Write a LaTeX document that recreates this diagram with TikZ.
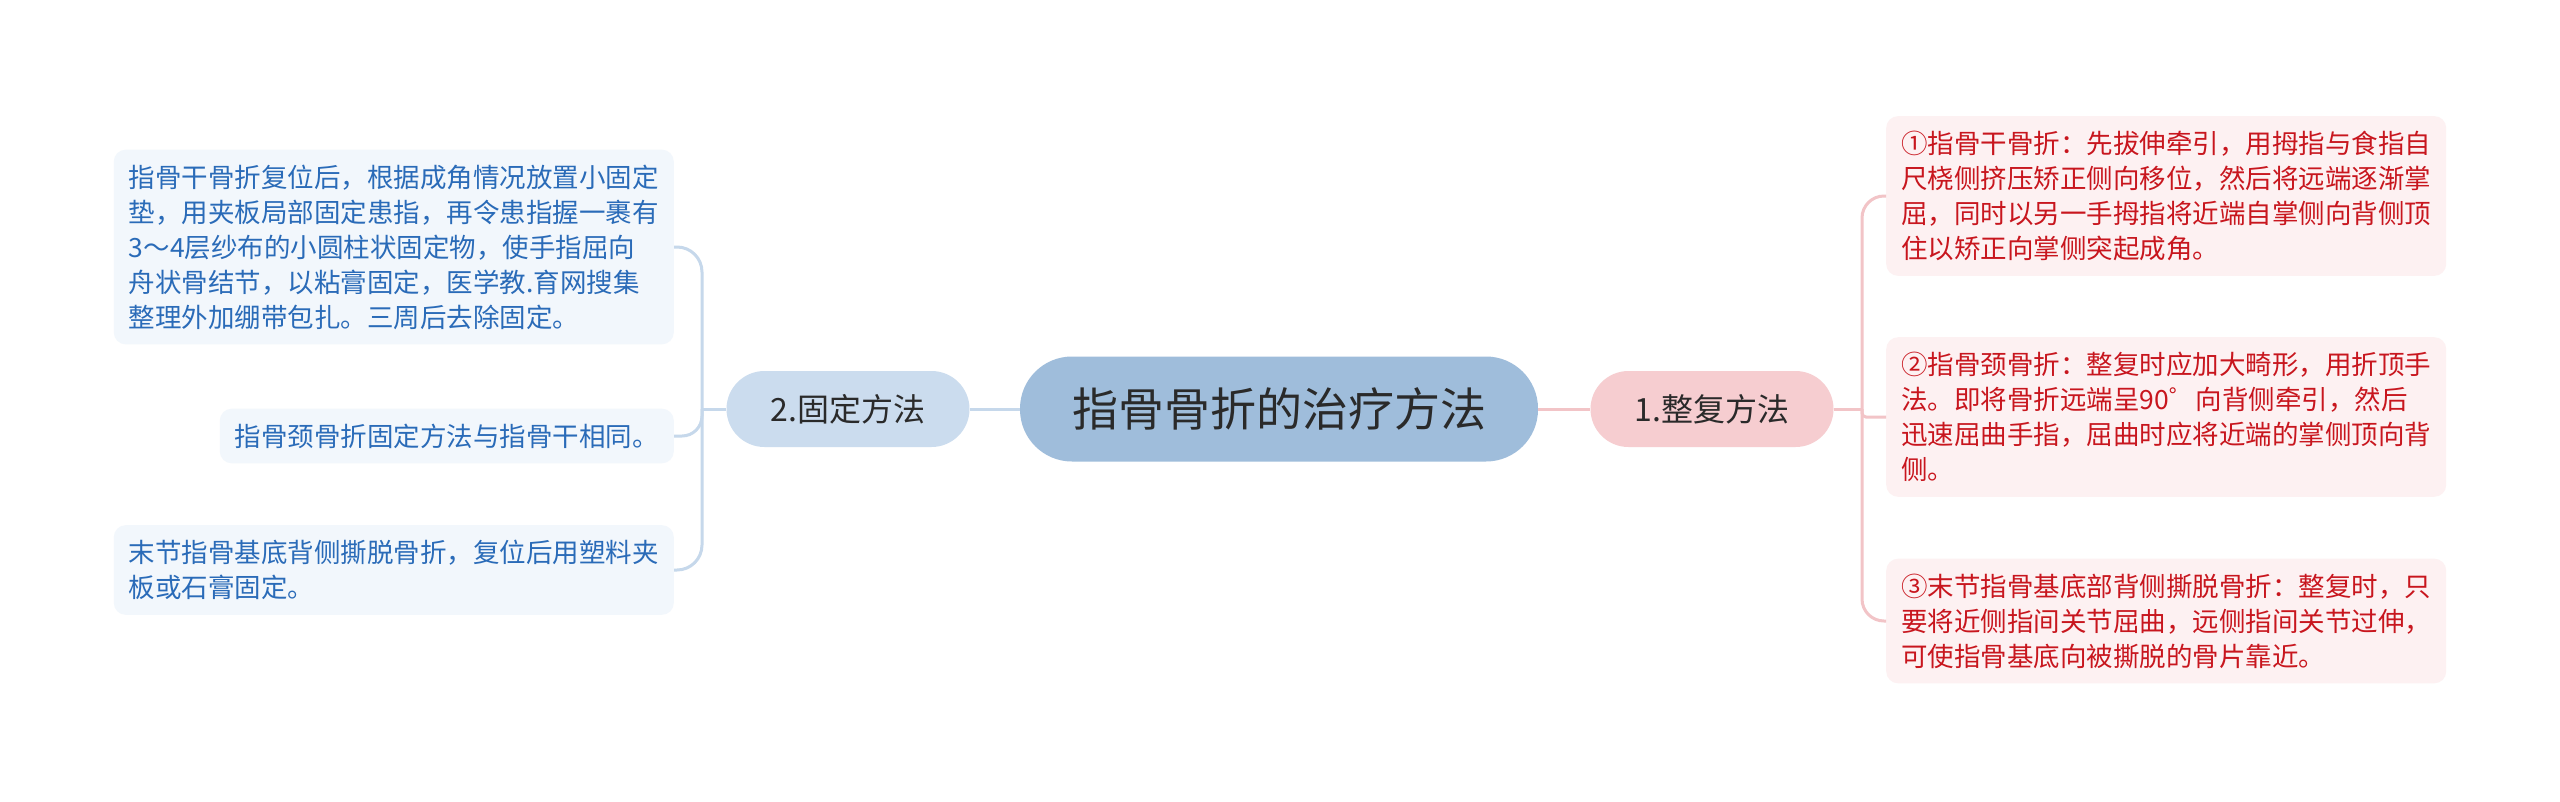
\documentclass[tikz,border=0pt]{standalone}
\usepackage{fontspec}
\newfontfamily\cjk{Noto Sans CJK SC}
\definecolor{cfill}{HTML}{9FBDDB}
\definecolor{bfill}{HTML}{CBDCEE}
\definecolor{pfill}{HTML}{F6CDD0}
\definecolor{lfill}{HTML}{F2F7FC}
\definecolor{rfill}{HTML}{FDF1F2}
\definecolor{ltext}{HTML}{2A6BB8}
\definecolor{rtext}{HTML}{C8161E}
\definecolor{lline}{HTML}{C6D8EB}
\definecolor{rline}{HTML}{F2C4C7}
\definecolor{dtext}{HTML}{2A2A2A}
\begin{document}
\begin{tikzpicture}[x=1pt,y=-1pt,
  central/.style={fill=cfill, text=dtext, minimum width=518pt, minimum height=105pt,
    rounded corners=52pt, inner sep=0pt, font=\cjk\fontsize{46}{52}\selectfont},
  bluebranch/.style={fill=bfill, text=dtext, minimum width=243pt, minimum height=76pt,
    rounded corners=38pt, inner sep=0pt, font=\cjk\fontsize{32}{36}\selectfont},
  pinkbranch/.style={fill=pfill, text=dtext, minimum width=243pt, minimum height=76pt,
    rounded corners=38pt, inner sep=0pt, font=\cjk\fontsize{32}{36}\selectfont},
  leaf/.style={rounded corners=12pt, inner xsep=15pt, inner ysep=15pt, align=left,
    font=\cjk\fontsize{26.5}{35}\selectfont},
  lleaf/.style={leaf, fill=lfill, text=ltext},
  rleaf/.style={leaf, fill=rfill, text=rtext},
  lconn/.style={draw=lline, line width=3pt},
  rconn/.style={draw=rline, line width=3pt}
]
\useasboundingbox[fill=white] (0,0) rectangle (2560,801);

\node[central] (c) at (1279,409) {指骨骨折的治疗方法};
\node[bluebranch] (fix) at (848,409) {2.固定方法};
\node[pinkbranch] (red) at (1712,409) {1.整复方法};

\node[lleaf, anchor=east] (l1) at (674,247) {指骨干骨折复位后，根据成角情况放置小固定\\垫，用夹板局部固定患指，再令患指握一裹有\\3～4层纱布的小圆柱状固定物，使手指屈向\\舟状骨结节，以粘膏固定，医学教.育网搜集\\整理外加绷带包扎。三周后去除固定。};
\node[lleaf, anchor=east] (l2) at (674,436) {指骨颈骨折固定方法与指骨干相同。};
\node[lleaf, anchor=east] (l3) at (674,570) {末节指骨基底背侧撕脱骨折，复位后用塑料夹\\板或石膏固定。};

\node[rleaf, anchor=west] (r1) at (1886,196) {①指骨干骨折：先拔伸牵引，用拇指与食指自\\尺桡侧挤压矫正侧向移位，然后将远端逐渐掌\\屈，同时以另一手拇指将近端自掌侧向背侧顶\\住以矫正向掌侧突起成角。};
\node[rleaf, anchor=west] (r2) at (1886,417) {②指骨颈骨折：整复时应加大畸形，用折顶手\\法。即将骨折远端呈90゜向背侧牵引，然后\\迅速屈曲手指，屈曲时应将近端的掌侧顶向背\\侧。};
\node[rleaf, anchor=west] (r3) at (1886,621) {③末节指骨基底部背侧撕脱骨折：整复时，只\\要将近侧指间关节屈曲，远侧指间关节过伸，\\可使指骨基底向被撕脱的骨片靠近。};

\coordinate (jl) at (702,409);
\coordinate (jr) at (1862,409);

\draw[lconn] (c.west) -- (fix.east);
\draw[rconn] (c.east) -- (red.west);
\draw[lconn] (fix.west) -- (jl);
\draw[rconn] (red.east) -- (jr);

\draw[lconn, rounded corners=25pt] (jl) |- (l1.east);
\draw[lconn, rounded corners=20pt] (jl) |- (l2.east);
\draw[lconn, rounded corners=25pt] (jl) |- (l3.east);
\draw[rconn, rounded corners=22pt] (jr) |- (r1.west);
\draw[rconn, rounded corners=4pt] (jr) |- (r2.west);
\draw[rconn, rounded corners=22pt] (jr) |- (r3.west);
\end{tikzpicture}
\end{document}
